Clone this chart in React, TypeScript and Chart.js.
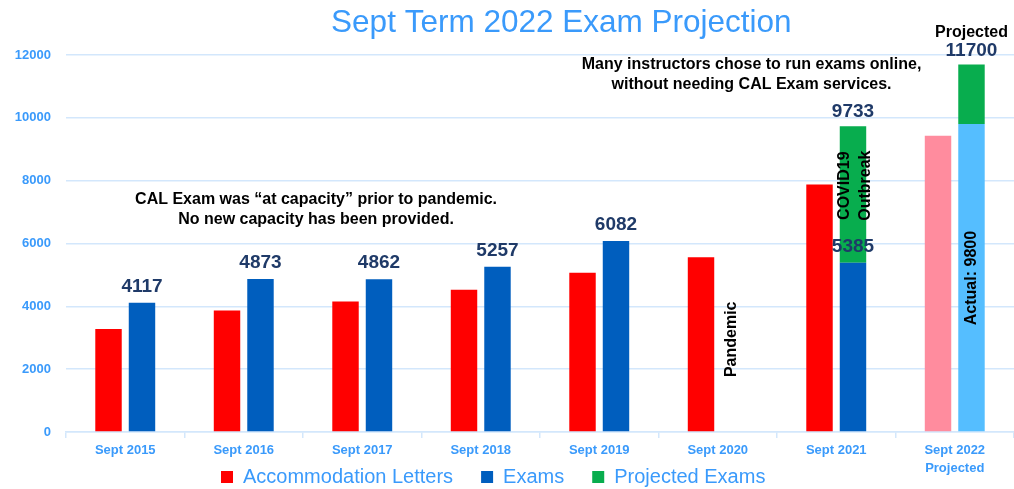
import React, { useEffect, useRef } from 'react';
import { Chart, registerables } from 'chart.js';

Chart.register(...registerables);

const FONT = '"Liberation Sans", Arial, Helvetica, sans-serif';

const titleText = 'Sept Term 2022 Exam Projection';
const categories: (string | string[])[] = [
  'Sept 2015', 'Sept 2016', 'Sept 2017', 'Sept 2018',
  'Sept 2019', 'Sept 2020', 'Sept 2021', ['Sept 2022', 'Projected'],
];
const accommodationLetters = [3280, 3870, 4150, 4530, 5070, 5560, 7880, 9430];
const exams = [4117, 4873, 4862, 5257, 6082, null, 5385, 9800];
const projectedExams = [null, null, null, null, null, null, 4348, 1900];
const examLabels = ['4117', '4873', '4862', '5257', '6082', '', '5385', ''];
const totalLabels = ['', '', '', '', '', '', '9733', '11700'];
const yTicks = [0, 2000, 4000, 6000, 8000, 10000, 12000];

const letterColors = ['#FF0000', '#FF0000', '#FF0000', '#FF0000', '#FF0000', '#FF0000', '#FF0000', '#FF8C9E'];
const examColors = ['#005EBE', '#005EBE', '#005EBE', '#005EBE', '#005EBE', '#005EBE', '#005EBE', '#55BEFF'];
const projectedColor = '#08AD4E';
const axisBlue = '#3A9AFB';
const navy = '#1F3A68';
const gridColor = '#D3E7FC';

const overlay = {
  id: 'overlay',
  afterLayout(chart: any) {
    const lg = chart.legend;
    if (!lg || !lg.lineWidths) return;
    const pad = lg.options.labels.padding;
    const h = lg.bottom - lg.top;
    const top = chart.chartArea.bottom + 7;
    lg.top = top;
    lg.bottom = top + h;
    const start = (lg.left + pad + lg.right - lg.lineWidths[0]) / 2;
    const d = 221 - start;
    lg.left += d;
    lg.right += d;
  },
  afterDatasetsDraw(chart: any) {
    const { ctx, scales } = chart;
    const x = scales.x;
    const y = scales.y;
    const step = x.getPixelForValue(1) - x.getPixelForValue(0);
    const cx = (c: number) => x.getPixelForValue(0) + c * step;
    const m0 = chart.getDatasetMeta(0);
    const m1 = chart.getDatasetMeta(1);
    const m2 = chart.getDatasetMeta(2);
    const dx = m1.data[0].x - m0.data[0].x;

    ctx.save();
    ctx.textAlign = 'center';

    // title
    ctx.textBaseline = 'alphabetic';
    ctx.fillStyle = axisBlue;
    ctx.font = `31.5px ${FONT}`;
    ctx.fillText(titleText, cx(3.68), y.getPixelForValue(12000) - 23);

    ctx.textBaseline = 'middle';
    // value labels
    ctx.fillStyle = navy;
    ctx.font = `bold 19px ${FONT}`;
    examLabels.forEach((t, i) => {
      if (!t) return;
      const el = m1.data[i];
      ctx.fillText(t, el.x, el.y - 16);
    });
    totalLabels.forEach((t, i) => {
      if (!t) return;
      const el = m2.data[i];
      ctx.fillText(t, el.x, el.y - 14);
    });

    ctx.fillStyle = '#000000';
    ctx.font = `bold 16px ${FONT}`;
    const p7 = m2.data[7];
    ctx.fillText('Projected', p7.x, p7.y - 32);

    const l1y = y.getPixelForValue(7390);
    ctx.fillText('CAL Exam was \u201Cat capacity\u201D prior to pandemic.', cx(1.61), l1y);
    ctx.fillText('No new capacity has been provided.', cx(1.61), l1y + 20);
    const l2y = y.getPixelForValue(11690);
    ctx.fillText('Many instructors chose to run exams online,', cx(5.285), l2y);
    ctx.fillText('without needing CAL Exam services.', cx(5.285), l2y + 20);

    const vtext = (lines: string[], px: number, py: number, lh: number) => {
      ctx.save();
      ctx.translate(px, py);
      ctx.rotate(-Math.PI / 2);
      lines.forEach((l, k) => ctx.fillText(l, 0, (k - (lines.length - 1) / 2) * lh));
      ctx.restore();
    };
    vtext(['Pandemic'], m0.data[5].x + dx - 3, y.getPixelForValue(2950), 21);
    vtext(['COVID19', 'Outbreak'], m1.data[6].x + 2, y.getPixelForValue(7840), 21);
    vtext(['Actual: 9800'], m1.data[7].x, y.getPixelForValue(4900), 21);

    ctx.restore();
  },
};

export default function App() {
  const ref = useRef<HTMLCanvasElement>(null);
  useEffect(() => {
    const ds = { categoryPercentage: 0.565, barPercentage: 0.79, borderWidth: 0 };
    const chart = new Chart(ref.current as HTMLCanvasElement, {
      type: 'bar',
      data: {
        labels: categories,
        datasets: [
          { label: 'Accommodation Letters', data: accommodationLetters, backgroundColor: letterColors, stack: 'letters', ...ds },
          { label: 'Exams', data: exams, backgroundColor: examColors, stack: 'exams', ...ds },
          { label: 'Projected Exams', data: projectedExams, backgroundColor: projectedColor, stack: 'exams', ...ds },
        ] as any,
      },
      options: {
        animation: false,
        responsive: true,
        maintainAspectRatio: false,
        layout: { padding: { top: 55, left: 13, right: -1, bottom: -46 } },
        plugins: {
          title: { display: false },
          tooltip: { enabled: false },
          legend: {
            position: 'bottom',
            labels: {
              boxWidth: 12,
              boxHeight: 12,
              padding: 28,
              color: axisBlue,
              font: { size: 20, family: FONT },
            },
          },
        },
        scales: {
          x: {
            stacked: true,
            afterFit: (s: any) => { s.height = 45; },
            grid: {
              drawOnChartArea: false,
              drawTicks: true,
              tickLength: 6,
              color: gridColor,
              lineWidth: 1.5,
            },
            border: { display: true, color: gridColor, width: 1.5 },
            ticks: {
              color: axisBlue,
              padding: 3,
              maxRotation: 0,
              autoSkip: false,
              font: { size: 13, weight: 'bold', family: FONT, lineHeight: 1.4 },
            },
          },
          y: {
            stacked: true,
            min: 0,
            max: 12000,
            afterBuildTicks: (s: any) => { s.ticks = yTicks.map((v) => ({ value: v })); },
            afterFit: (s: any) => { s.width = 53; },
            grid: { color: gridColor, lineWidth: 1.5, drawTicks: false },
            border: { display: false },
            ticks: {
              color: axisBlue,
              padding: 15,
              callback: (v: any) => String(v),
              font: { size: 13, weight: 'bold', family: FONT },
            },
          },
        },
      } as any,
      plugins: [overlay],
    });
    return () => chart.destroy();
  }, []);
  return (
    <div style={{ position: 'absolute', left: 0, top: 0, width: 1014, height: 489, background: '#FFFFFF' }}>
      <canvas ref={ref} />
    </div>
  );
}
